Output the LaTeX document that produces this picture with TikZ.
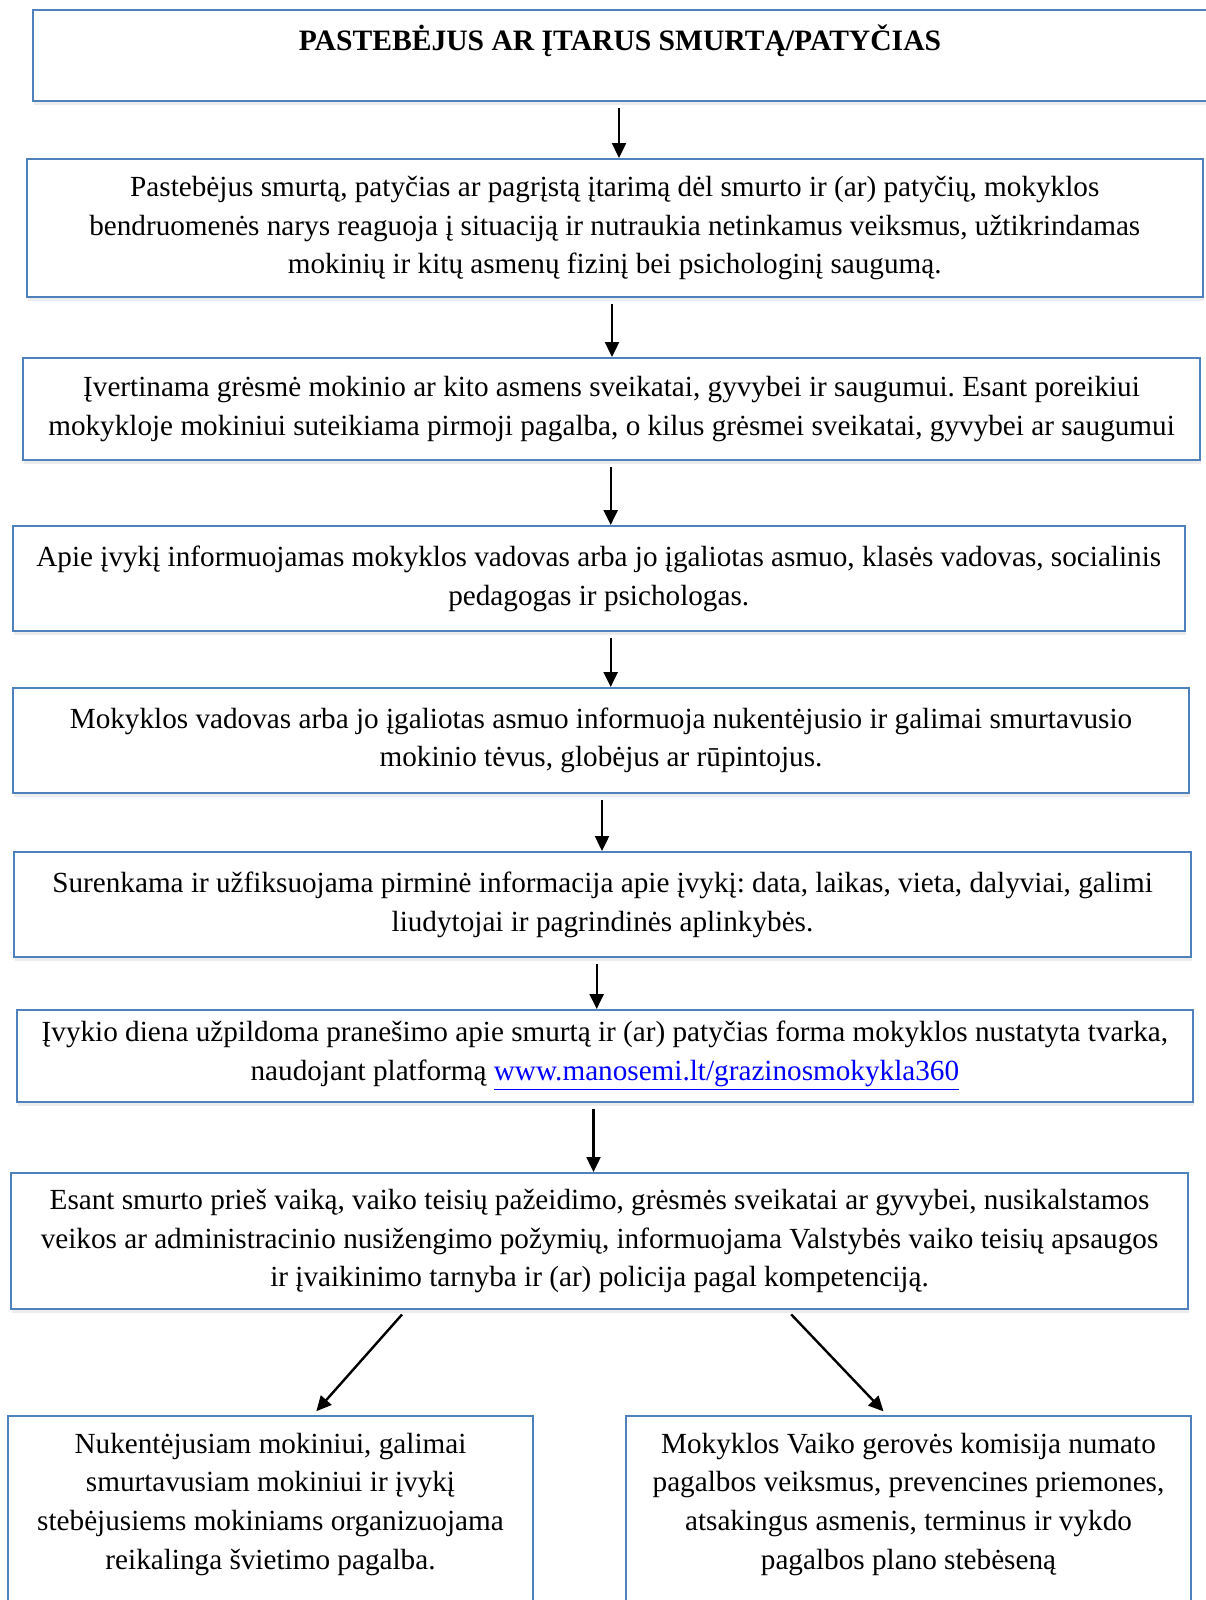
\documentclass[tikz,border=0pt]{standalone}
\usepackage{fontspec}
\setmainfont{Liberation Serif}
\usetikzlibrary{arrows.meta,shadows}
\frenchspacing

\definecolor{boxblue}{RGB}{79,129,189}
\definecolor{linkblue}{RGB}{0,0,255}

\tikzset{
  stepbox/.style={draw=boxblue, line width=1pt, fill=white, align=center,
    inner sep=0pt,
    drop shadow={opacity=0.15, shadow xshift=0.5pt, shadow yshift=-2pt}},
  arr/.style={-{Triangle[length=7.5pt,width=7pt]}, line width=1.2pt,
    shorten <=3pt},
}

\begin{document}
\begin{tikzpicture}[x=0.5pt, y=-0.5pt, font=\fontsize{14.6}{19.4}\selectfont]
    \useasboundingbox (0,0) rectangle (1205,1600);

    % Title
    \node[stepbox, anchor=north west, minimum width=587pt,
      text height=20.5pt, text depth=25pt, font=\fontsize{14.8}{19.4}\selectfont\bfseries]
      (title) at (32,9) {PASTEBĖJUS AR ĮTARUS SMURTĄ/PATYČIAS};

    % Steps
    \node[stepbox, minimum width=588.25pt, minimum height=69pt] (react) at (614.75,228)
      {Pastebėjus smurtą, patyčias ar pagrįstą įtarimą dėl smurto ir (ar) patyčių, mokyklos\\
       bendruomenės narys reaguoja į situaciją ir nutraukia netinkamus veiksmus, užtikrindamas\\
       mokinių ir kitų asmenų fizinį bei psichologinį saugumą.};

    \node[stepbox, minimum width=588.5pt, minimum height=51pt] (threat) at (611.5,409)
      {Įvertinama grėsmė mokinio ar kito asmens sveikatai, gyvybei ir saugumui. Esant poreikiui\\
       mokykloje mokiniui suteikiama pirmoji pagalba, o kilus grėsmei sveikatai, gyvybei ar saugumui};

    \node[stepbox, minimum width=586.25pt, minimum height=52.5pt] (inform) at (598.75,578.5)
      {Apie įvykį informuojamas mokyklos vadovas arba jo įgaliotas asmuo, klasės vadovas, socialinis\\
       pedagogas ir psichologas.};

    \node[stepbox, minimum width=588pt, minimum height=52.3pt] (parents) at (601,740.3)
      {Mokyklos vadovas arba jo įgaliotas asmuo informuoja nukentėjusio ir galimai smurtavusio\\
       mokinio tėvus, globėjus ar rūpintojus.};

    \node[stepbox, minimum width=588.5pt, minimum height=52.5pt] (collect) at (602.5,904.5)
      {Surenkama ir užfiksuojama pirminė informacija apie įvykį: data, laikas, vieta, dalyviai, galimi\\
       liudytojai ir pagrindinės aplinkybės.};

    \node[stepbox, minimum width=588.15pt, minimum height=46pt] (report) at (604.85,1056)
      {Įvykio diena užpildoma pranešimo apie smurtą ir (ar) patyčias forma mokyklos nustatyta tvarka,\\
       naudojant platformą \textcolor{linkblue}{\underline{www.manosemi.lt/grazinosmokykla360}}};

    \node[stepbox, minimum width=588.5pt, minimum height=68pt] (police) at (599.5,1241)
      {Esant smurto prieš vaiką, vaiko teisių pažeidimo, grėsmės sveikatai ar gyvybei, nusikalstamos\\
       veikos ar administracinio nusižengimo požymių, informuojama Valstybės vaiko teisių apsaugos\\
       ir įvaikinimo tarnyba ir (ar) policija pagal kompetenciją.};

    % Two branches
    \node[stepbox, anchor=north, minimum width=262.5pt,
      text height=76.7pt, text depth=40pt] (help) at (270.5,1415)
      {Nukentėjusiam mokiniui, galimai\\
       smurtavusiam mokiniui ir įvykį\\
       stebėjusiems mokiniams organizuojama\\
       reikalinga švietimo pagalba.};

    \node[stepbox, anchor=north, minimum width=282.5pt,
      text height=76.7pt, text depth=40pt] (commission) at (908.5,1415)
      {Mokyklos Vaiko gerovės komisija numato\\
       pagalbos veiksmus, prevencines priemones,\\
       atsakingus asmenis, terminus ir vykdo\\
       pagalbos plano stebėseną};

    % Arrows
    \draw[arr] (title.south -| 619,0) -- (react.north -| 619,0);
    \draw[arr] (react.south -| 612,0) -- (threat.north -| 612,0);
    \draw[arr] (threat.south -| 610.7,0) -- (inform.north -| 610.7,0);
    \draw[arr] (inform.south -| 610.7,0) -- (parents.north -| 610.7,0);
    \draw[arr] (parents.south -| 602,0) -- (collect.north -| 602,0);
    \draw[arr] (collect.south -| 596.7,0) -- (report.north -| 596.7,0);
    \draw[arr] (report.south -| 593.5,0) -- (police.north -| 593.5,0);
    \draw[arr, shorten >=2.5pt] (police.south -| 406,0) -- (help.north -| 313,0);
    \draw[arr, shorten >=2.5pt] (police.south -| 787,0) -- (commission.north -| 887,0);

\end{tikzpicture}
\end{document}
